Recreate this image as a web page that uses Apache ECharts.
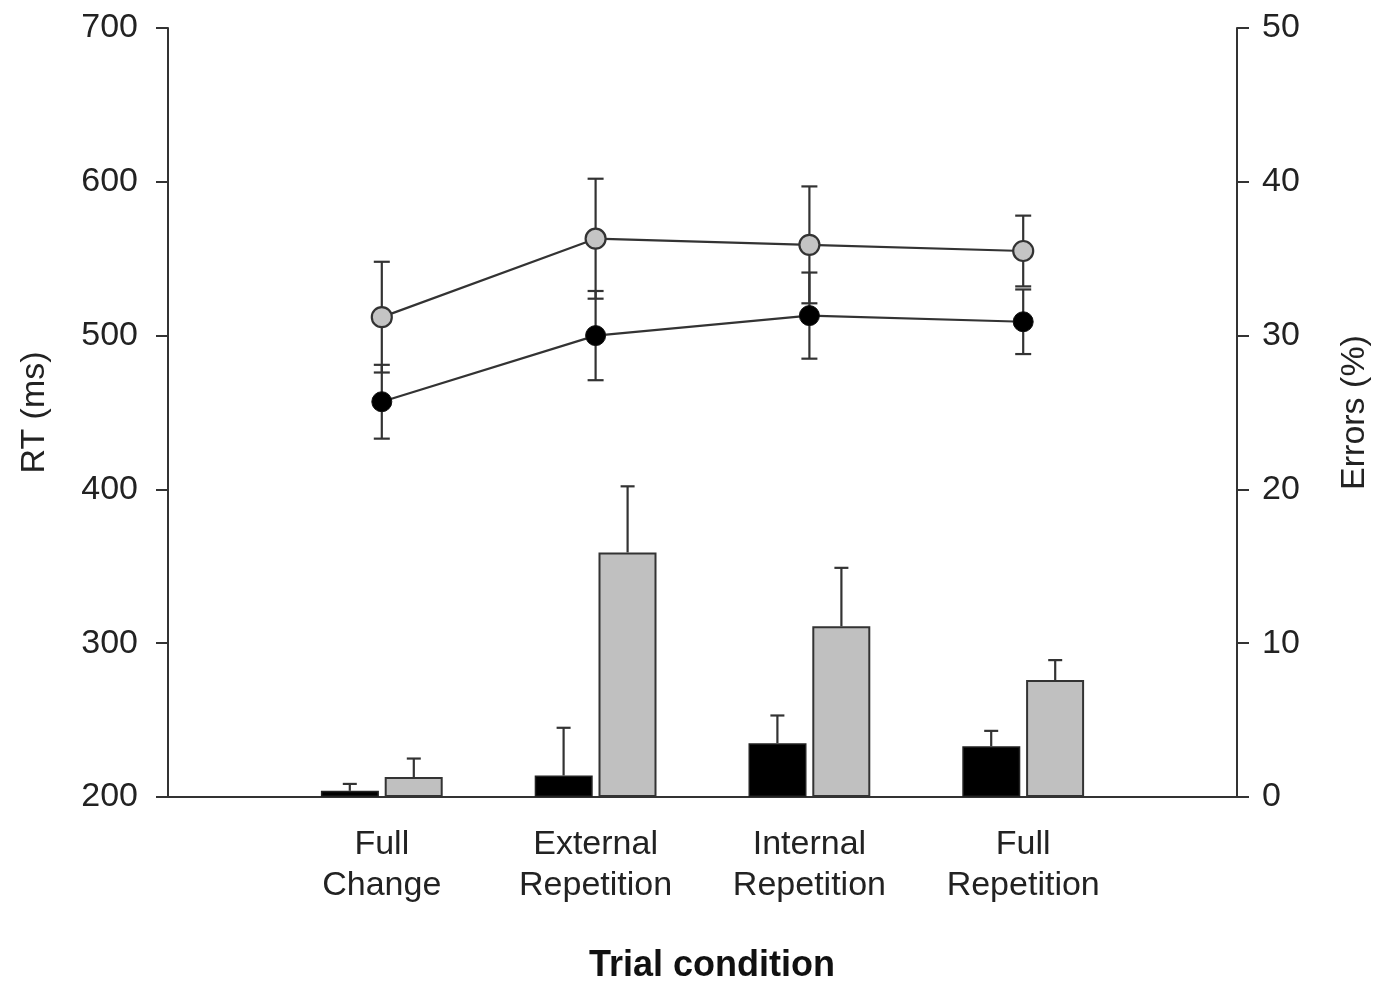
<!DOCTYPE html>
<html>
<head>
<meta charset="utf-8">
<script src="https://cdn.jsdelivr.net/npm/echarts@6/dist/echarts.min.js"></script>
<style>
  html, body { margin: 0; padding: 0; background: #fff; }
  #chart { width: 1380px; height: 989px; }
</style>
</head>
<body>
<div id="chart"></div>
<script>
// ---- data ----
const categories = ['', 'Full\nChange', 'External\nRepetition', 'Internal\nRepetition', 'Full\nRepetition', ''];
const rtTicks = [200, 300, 400, 500, 600, 700];
const errTicks = [0, 10, 20, 30, 40, 50];

const rtGray = [512, 563, 559, 555];
const rtGrayErr = [36, 39, 38, 23];
const rtBlack = [457, 500, 513, 509];
const rtBlackErr = [24, 29, 28, 21];

const errBlack = [0.4, 1.4, 3.5, 3.3];
const errBlackSE = [0.45, 3.1, 1.8, 1.0];
const errGray = [1.3, 15.9, 11.1, 7.6];
const errGraySE = [1.2, 4.3, 3.8, 1.3];

// ---- build ----
const FONT = '"Liberation Sans", Arial, sans-serif';
const AX = '#333';
const toPairs = arr => arr.map((v, i) => [i + 1, v]);
const toErrPairs = (vals, errs) => vals.map((v, i) => [i + 1, v, errs[i]]);

function symErrRender(params, api) {
  const x = api.value(0), v = api.value(1), e = api.value(2);
  const top = api.coord([x, v + e]);
  const bot = api.coord([x, v - e]);
  const cw = 8;
  const style = { stroke: AX, lineWidth: 2.2 };
  return {
    type: 'group',
    children: [
      { type: 'line', shape: { x1: top[0], y1: top[1], x2: bot[0], y2: bot[1] }, style },
      { type: 'line', shape: { x1: top[0] - cw, y1: top[1], x2: top[0] + cw, y2: top[1] }, style },
      { type: 'line', shape: { x1: bot[0] - cw, y1: bot[1], x2: bot[0] + cw, y2: bot[1] }, style }
    ]
  };
}

function barErrRender(offset) {
  return function (params, api) {
    const x = api.value(0), v = api.value(1), e = api.value(2);
    const base = api.coord([x, v]);
    const top = api.coord([x, v + e]);
    const cx = base[0] + offset;
    const cw = 7;
    const style = { stroke: AX, lineWidth: 2.2 };
    return {
      type: 'group',
      children: [
        { type: 'line', shape: { x1: cx, y1: base[1], x2: cx, y2: top[1] }, style },
        { type: 'line', shape: { x1: cx - cw, y1: top[1], x2: cx + cw, y2: top[1] }, style }
      ]
    };
  };
}

const BAR_W = 58;
const BAR_OFF = 32;

const option = {
  backgroundColor: '#fff',
  animation: false,
  grid: { left: 168, right: 143, top: 28, bottom: 192, containLabel: false },
  xAxis: {
    type: 'category',
    data: categories,
    boundaryGap: false,
    axisLine: { show: true, lineStyle: { color: AX, width: 2 } },
    axisTick: { show: false },
    axisLabel: {
      interval: 0, margin: 27, color: '#222', fontSize: 34, lineHeight: 41,
      fontFamily: FONT, align: 'center'
    },
    splitLine: { show: false }
  },
  yAxis: [
    {
      type: 'value', min: 200, max: 700, interval: 100, position: 'left',
      name: 'RT (ms)', nameLocation: 'middle', nameRotate: 90, nameGap: 116,
      nameTextStyle: { fontSize: 34, color: '#222', fontFamily: FONT },
      axisLine: { show: true, lineStyle: { color: AX, width: 2 } },
      axisTick: { show: true, length: 12, lineStyle: { color: AX, width: 2 } },
      axisLabel: { margin: 30, fontSize: 34, color: '#222', fontFamily: FONT,
        formatter: v => rtTicks.includes(v) ? String(v) : '' },
      splitLine: { show: false }
    },
    {
      type: 'value', min: 0, max: 50, interval: 10, position: 'right',
      name: 'Errors (%)', nameLocation: 'middle', nameRotate: 90, nameGap: 101,
      nameTextStyle: { fontSize: 34, color: '#222', fontFamily: FONT },
      axisLine: { show: true, lineStyle: { color: AX, width: 2 } },
      axisTick: { show: true, length: 12, lineStyle: { color: AX, width: 2 } },
      axisLabel: { margin: 25, fontSize: 34, color: '#222', fontFamily: FONT,
        formatter: v => errTicks.includes(v) ? String(v) : '' },
      splitLine: { show: false }
    }
  ],
  graphic: [
    {
      type: 'text', x: 712, y: 966, z: 10,
      style: {
        text: 'Trial condition', x: 0, y: 0, align: 'center', verticalAlign: 'middle',
        font: 'bold 36px ' + FONT, fill: '#111'
      }
    }
  ],
  series: [
    {
      name: 'Errors black', type: 'bar', yAxisIndex: 1, barWidth: BAR_W, barGap: '10%',
      data: toPairs(errBlack),
      itemStyle: { color: '#000', borderColor: '#222', borderWidth: 1.5 }, z: 2
    },
    {
      name: 'Errors gray', type: 'bar', yAxisIndex: 1, barWidth: BAR_W, barGap: '10%',
      data: toPairs(errGray),
      itemStyle: { color: '#c0c0c0', borderColor: '#333', borderWidth: 2 }, z: 2
    },
    {
      name: 'Errors black SE', type: 'custom', yAxisIndex: 1,
      renderItem: barErrRender(-BAR_OFF), data: toErrPairs(errBlack, errBlackSE), z: 3
    },
    {
      name: 'Errors gray SE', type: 'custom', yAxisIndex: 1,
      renderItem: barErrRender(BAR_OFF), data: toErrPairs(errGray, errGraySE), z: 3
    },
    {
      name: 'RT gray SE', type: 'custom', yAxisIndex: 0,
      renderItem: symErrRender, data: toErrPairs(rtGray, rtGrayErr), z: 3
    },
    {
      name: 'RT black SE', type: 'custom', yAxisIndex: 0,
      renderItem: symErrRender, data: toErrPairs(rtBlack, rtBlackErr), z: 3
    },
    {
      name: 'RT gray', type: 'line', yAxisIndex: 0, data: toPairs(rtGray),
      symbol: 'circle', symbolSize: 20,
      lineStyle: { color: AX, width: 2.2 },
      itemStyle: { color: '#c4c4c4', borderColor: '#333', borderWidth: 2.2 }, z: 5
    },
    {
      name: 'RT black', type: 'line', yAxisIndex: 0, data: toPairs(rtBlack),
      symbol: 'circle', symbolSize: 20,
      lineStyle: { color: AX, width: 2.2 },
      itemStyle: { color: '#000', borderColor: '#111', borderWidth: 1 }, z: 5
    }
  ]
};

const chart = echarts.init(document.getElementById('chart'), null, { renderer: 'canvas' });
chart.setOption(option);
</script>
</body>
</html>
